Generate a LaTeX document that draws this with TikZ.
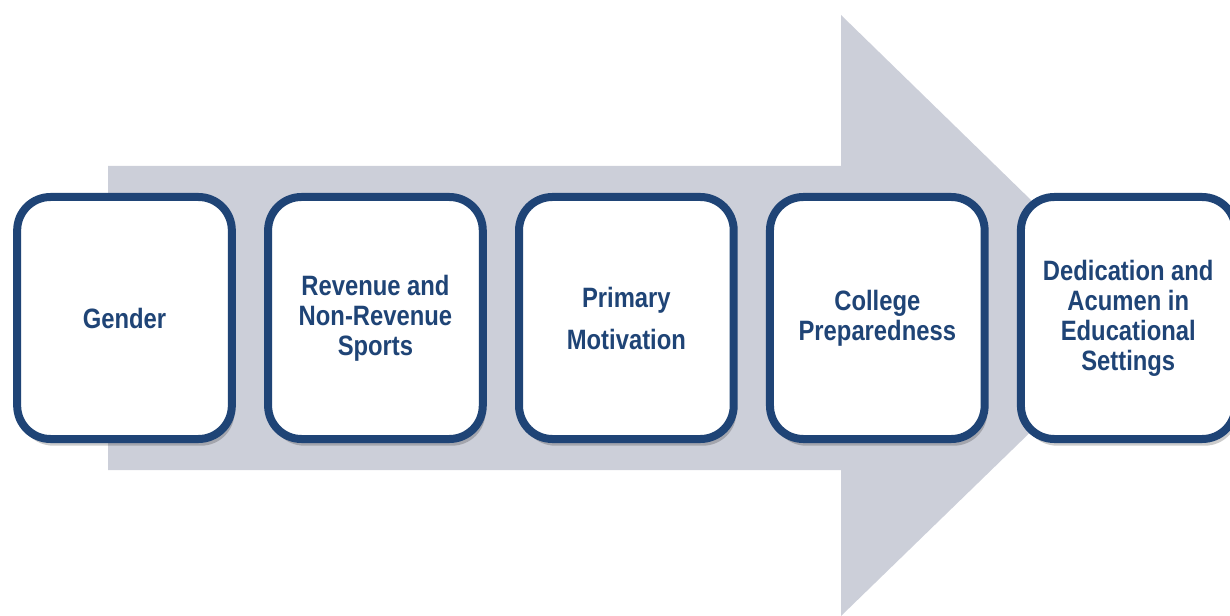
\documentclass[tikz,border=0pt]{standalone}
\usepackage{fontspec}
\setmainfont{Liberation Sans}[FakeStretch=0.85]
\usetikzlibrary{positioning}
\usetikzlibrary{shadows}
\definecolor{stageblue}{RGB}{31,68,118}
\definecolor{arrowgray}{RGB}{204,207,217}

\begin{document}
\begin{tikzpicture}[x=0.75pt,y=-0.75pt,
  stage/.style={draw=stageblue, line width=6pt, fill=white, rounded corners=25pt,
    outer sep=0pt, minimum width=161pt, minimum height=181.5pt, align=center,
    text=stageblue, font=\fontsize{21}{22.5}\selectfont\bfseries,
    drop shadow={shadow xshift=2pt, shadow yshift=-5pt, opacity=0.2, fill=black}},
  node distance=27.2pt]
\useasboundingbox (0,0) rectangle (1230,616);
% big arrow in the back
\fill[arrowgray] (108,166) -- (841,166) -- (841,15) -- (1150,316) -- (841,616) -- (841,470) -- (108,470) -- cycle;
% the five stages
\node[stage] (gender) at (124.5,318) {Gender};
\node[stage, right=of gender] (revenue) {Revenue and\\Non-Revenue\\Sports};
\node[stage, right=of revenue] (motivation) {Primary\\[9pt]Motivation};
\node[stage, right=of motivation] (college) {College\\Preparedness};
\node[stage, right=of college] (dedication) {Dedication and\\Acumen in\\Educational\\Settings};
\end{tikzpicture}
\end{document}
